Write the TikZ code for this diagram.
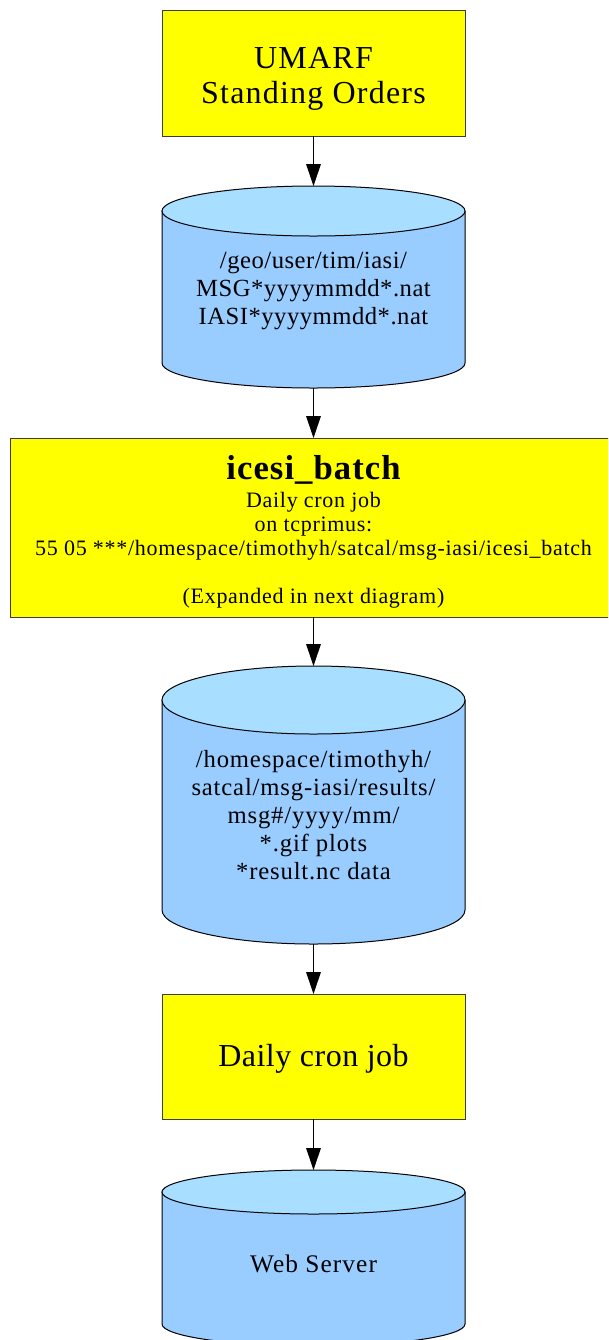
\documentclass[tikz,border=0pt]{standalone}
\usepackage{fontspec}
\setmainfont{Liberation Serif}
\usetikzlibrary{arrows.meta}
\definecolor{boxyellow}{HTML}{FFFF00}
\definecolor{cylbody}{HTML}{99CCFF}
\definecolor{cyltop}{HTML}{A8DEFF}
\definecolor{boxedge}{HTML}{3C3C3C}
% #1 cx, #2 top, #3 bottom, #4 rx, #5 ry  (all in px)
\newcommand\cylshape[5]{%
  \filldraw[cylline, fill=cylbody]
    ({#1-#4},{#2+#5}) -- ({#1-#4},{#3-#5})
    .. controls ({#1-#4},{#3-#5+0.5523*#5}) and ({#1-0.5523*#4},{#3}) .. ({#1},{#3})
    .. controls ({#1+0.5523*#4},{#3}) and ({#1+#4},{#3-#5+0.5523*#5}) .. ({#1+#4},{#3-#5})
    -- ({#1+#4},{#2+#5}) -- cycle;
  \filldraw[cylline, fill=cyltop] ({#1},{#2+#5}) ellipse [x radius={#4*0.75pt}, y radius={#5*0.75pt}];
}
\begin{document}
\begin{tikzpicture}[x=0.75pt,y=-0.75pt,
  ybox/.style={draw=boxedge, line width=0.75pt, fill=boxyellow, rectangle, inner sep=0pt, outer sep=0pt},
  txt/.style={inner sep=0pt, outer sep=0pt, align=center, text=black},
  cylline/.style={draw=black, line width=0.75pt},
  arr/.style={draw=black, line width=0.75pt, -{Triangle[length=16.5pt, width=11pt]}}]
\path[use as bounding box] (0,0) rectangle (608,1340);
\clip (0,0) rectangle (608,1340);

% boxes
\node[ybox, minimum width=227.25pt, minimum height=94.5pt] (b1) at (313.5,73) {};
\node[ybox, minimum width=455.25pt, minimum height=134.25pt] (b3) at (313.5,527.5) {};
\node[ybox, minimum width=227.25pt, minimum height=93.75pt] (b5) at (313.5,1056.5) {};

% cylinders
\cylshape{313.5}{186}{388}{151.5}{25}
\cylshape{313.5}{666}{944}{151.5}{34}
\cylshape{313.5}{1170}{1346}{151.5}{22}
\coordinate (c2top) at (313.5,186);
\coordinate (c2bot) at (313.5,388);
\coordinate (c4top) at (313.5,666);
\coordinate (c4bot) at (313.5,944);
\coordinate (c6top) at (313.5,1170);

% texts
\node[txt, font=\fontsize{24}{26}\selectfont\addfontfeatures{LetterSpace=3.8}] (t1) at (313.5,79)
  {UMARF\\Standing Orders};

\node[txt, font=\fontsize{18.5}{21}\selectfont\addfontfeatures{LetterSpace=2}] (t2) at (313.5,291)
  {/geo/user/tim/iasi/\\MSG*yyyymmdd*.nat\\IASI*yyyymmdd*.nat};

\node[txt, font=\fontsize{16.5}{18}\selectfont\addfontfeatures{LetterSpace=3.2}] (t3) at (313.5,532)
  {{\fontsize{26}{18}\selectfont\bfseries\addfontfeatures{LetterSpace=3}icesi\_batch}\\[3pt]
   Daily cron job\\
   on tcprimus:\\
   55 05 ***/homespace/timothyh/satcal/msg-iasi/icesi\_batch\\[18pt]
   (Expanded in next diagram)};

\node[txt, font=\fontsize{18.5}{21}\selectfont\addfontfeatures{LetterSpace=3.4}] (t4) at (313.5,815)
  {/homespace/timothyh/\\satcal/msg-iasi/results/\\msg\#/yyyy/mm/\\*.gif plots\\*result.nc data};

\node[txt, font=\fontsize{24}{26}\selectfont\addfontfeatures{LetterSpace=1.6}] (t5) at (313.5,1058.5) {Daily cron job};

\node[txt, font=\fontsize{19}{21}\selectfont\addfontfeatures{LetterSpace=4.3}] (t6) at (313.5,1264) {Web Server};

% connectors
\draw[arr] (b1.south) -- (c2top);
\draw[arr] (c2bot) -- (b3.north);
\draw[arr] (b3.south) -- (c4top);
\draw[arr] (c4bot) -- (b5.north);
\draw[arr] (b5.south) -- (c6top);
\end{tikzpicture}
\end{document}
